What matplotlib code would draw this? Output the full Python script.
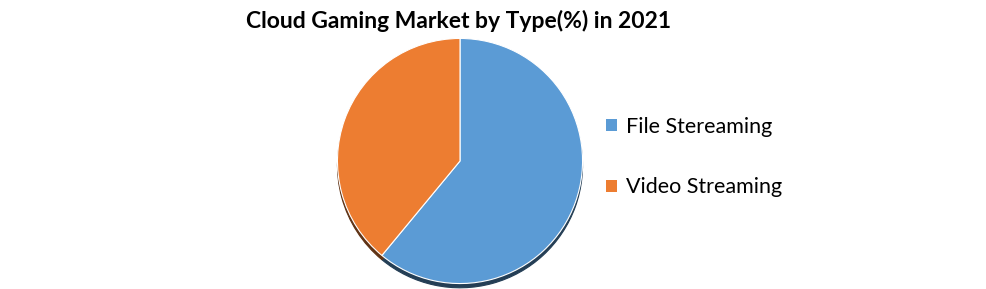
import matplotlib.pyplot as plt
from matplotlib.patches import Patch, Shadow

labels = ['File Stereaming', 'Video Streaming']
shares = [61, 39]
colors = ['#5B9BD5', '#ED7D31']

plt.rcParams['font.family'] = ['Lato', 'DejaVu Sans']

fig = plt.figure(figsize=(9.86, 2.89), dpi=100)
fig.patch.set_facecolor('white')

# pie axes, square, centered around pixel (460, 161)
W, H = 986, 289
ax = fig.add_axes([335 / W, 3 / H, 250 / W, 250 / H])
ax.pie(shares, colors=colors, startangle=90, counterclock=False,
       wedgeprops={'edgecolor': 'white', 'linewidth': 0.8},
       shadow={'ox': 0.0, 'oy': -0.025, 'shade': 0.6})
for p in ax.patches:
    if isinstance(p, Shadow):
        p.set_alpha(1)
ax.set_xlim(-1.02, 1.02)
ax.set_ylim(-1.02, 1.02)
ax.set_aspect('equal')
ax.axis('off')

fig.text(458 / W, 1 - 21 / H, 'Cloud Gaming Market by Type(%) in 2021',
         ha='center', va='center', fontsize=16.5, fontweight='bold')

handles = [Patch(facecolor=c, edgecolor='none') for c in colors]
fig.legend(handles, labels, loc='center left', bbox_to_anchor=(587 / W, 1 - 157 / H),
           frameon=False, fontsize=15.5, handlelength=0.5, handleheight=0.5,
           handletextpad=0.4, labelspacing=1.9)

fig.savefig('out.png', dpi=100)
